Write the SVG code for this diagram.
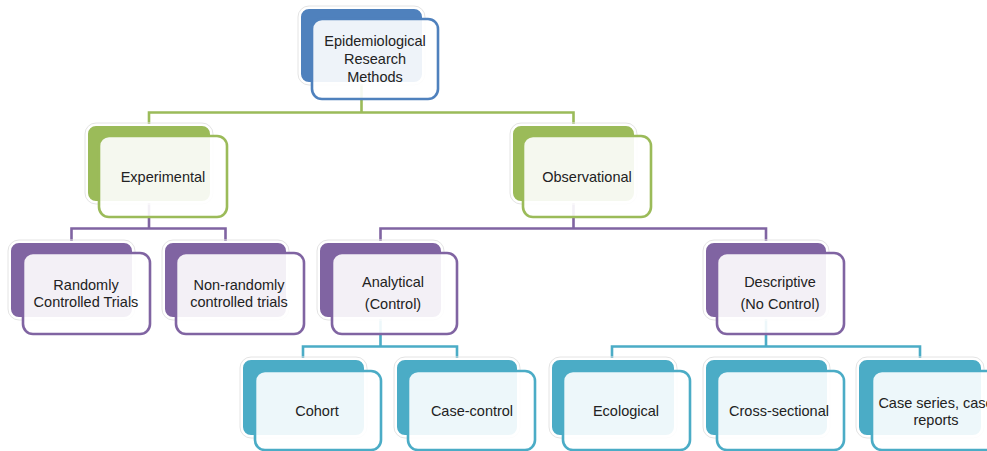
<svg xmlns="http://www.w3.org/2000/svg" width="987" height="451" viewBox="0 0 987 451">
  <style>
    .halo { fill: none; stroke: #e4e4e4; stroke-width: 1; }
    .back { stroke: #ffffff; stroke-width: 2; }
    .front { fill: #ffffff; fill-opacity: 0.9; stroke-width: 2.6; }
    .blue .back { fill: #4f81bd; }  .blue .front { stroke: #4f81bd; }
    .green .back { fill: #9bbb59; } .green .front { stroke: #9bbb59; }
    .purple .back { fill: #8064a2; } .purple .front { stroke: #8064a2; }
    .teal .back { fill: #4bacc6; }  .teal .front { stroke: #4bacc6; }
    .lbl { font-family: "Liberation Sans", Arial, sans-serif; font-size: 14.5px; fill: #222222; text-anchor: middle; }
    .conn { fill: none; stroke-width: 2.6; stroke-linejoin: miter; }
    .c-green { stroke: #9bbb59; } .c-purple { stroke: #8064a2; } .c-teal { stroke: #4bacc6; }
  </style>

  <!-- connectors (behind nodes) -->
  <g id="connectors">
    <path class="conn c-green" d="M361.5 83 V112.5 M149 125 V112.5 H573.5 V125"/>
    <path class="conn c-purple" d="M149 202 V228.5 M71.5 242 V228.5 H225.5 V242"/>
    <path class="conn c-purple" d="M573.5 202 V228.5 M380.5 242 V228.5 H766 V242"/>
    <path class="conn c-teal" d="M380.5 318 V346.5 M303 359 V346.5 H457 V359"/>
    <path class="conn c-teal" d="M766 318 V346.5 M612 359 V346.5 H920 V359"/>
  </g>

  <!-- level 1 -->
  <g id="node-research-methods" class="blue">
    <rect class="halo" x="298" y="6" width="127" height="79" rx="11"/>
    <rect class="back" x="300" y="8" width="123" height="75" rx="9"/>
    <rect class="front" x="312" y="19" width="126" height="80" rx="10"/>
    <text class="lbl" x="375" y="46">Epidemiological</text>
    <text class="lbl" x="375" y="64">Research</text>
    <text class="lbl" x="375" y="82">Methods</text>
  </g>

  <!-- level 2 -->
  <g id="node-experimental" class="green">
    <rect class="halo" x="85" y="123" width="128" height="81" rx="11"/>
    <rect class="back" x="87" y="125" width="124" height="77" rx="9"/>
    <rect class="front" x="99" y="136" width="128" height="81" rx="10"/>
    <text class="lbl" x="163" y="182">Experimental</text>
  </g>
  <g id="node-observational" class="green">
    <rect class="halo" x="510" y="123" width="127" height="81" rx="11"/>
    <rect class="back" x="512" y="125" width="123" height="77" rx="9"/>
    <rect class="front" x="523" y="136" width="128" height="81" rx="10"/>
    <text class="lbl" x="587" y="182">Observational</text>
  </g>

  <!-- level 3 -->
  <g id="node-rct" class="purple">
    <rect class="halo" x="8" y="240" width="127" height="80" rx="11"/>
    <rect class="back" x="10" y="242" width="123" height="76" rx="9"/>
    <rect class="front" x="23" y="253" width="127" height="81" rx="10"/>
    <text class="lbl" x="86" y="290">Randomly</text>
    <text class="lbl" x="86" y="307">Controlled Trials</text>
  </g>
  <g id="node-non-randomly" class="purple">
    <rect class="halo" x="162" y="240" width="127" height="80" rx="11"/>
    <rect class="back" x="164" y="242" width="123" height="76" rx="9"/>
    <rect class="front" x="176" y="253" width="128" height="81" rx="10"/>
    <text class="lbl" x="239" y="290">Non-randomly</text>
    <text class="lbl" x="239" y="307">controlled trials</text>
  </g>
  <g id="node-analytical" class="purple">
    <rect class="halo" x="317" y="240" width="127" height="80" rx="11"/>
    <rect class="back" x="319" y="242" width="123" height="76" rx="9"/>
    <rect class="front" x="332" y="253" width="125" height="81" rx="10"/>
    <text class="lbl" x="393" y="287">Analytical</text>
    <text class="lbl" x="393" y="309">(Control)</text>
  </g>
  <g id="node-descriptive" class="purple">
    <rect class="halo" x="703" y="240" width="126" height="80" rx="11"/>
    <rect class="back" x="705" y="242" width="122" height="76" rx="9"/>
    <rect class="front" x="717" y="253" width="127" height="81" rx="10"/>
    <text class="lbl" x="780" y="287">Descriptive</text>
    <text class="lbl" x="780" y="309">(No Control)</text>
  </g>

  <!-- level 4 -->
  <g id="node-cohort" class="teal">
    <rect class="halo" x="240" y="357" width="127" height="81" rx="11"/>
    <rect class="back" x="242" y="359" width="123" height="77" rx="9"/>
    <rect class="front" x="255" y="371" width="126" height="79" rx="10"/>
    <text class="lbl" x="317" y="416">Cohort</text>
  </g>
  <g id="node-case-control" class="teal">
    <rect class="halo" x="394" y="357" width="126" height="81" rx="11"/>
    <rect class="back" x="396" y="359" width="122" height="77" rx="9"/>
    <rect class="front" x="408" y="371" width="127" height="79" rx="10"/>
    <text class="lbl" x="472" y="416">Case-control</text>
  </g>
  <g id="node-ecological" class="teal">
    <rect class="halo" x="549" y="357" width="128" height="81" rx="11"/>
    <rect class="back" x="551" y="359" width="124" height="77" rx="9"/>
    <rect class="front" x="563" y="371" width="127" height="79" rx="10"/>
    <text class="lbl" x="626" y="416">Ecological</text>
  </g>
  <g id="node-cross-sectional" class="teal">
    <rect class="halo" x="703" y="357" width="127" height="81" rx="11"/>
    <rect class="back" x="705" y="359" width="123" height="77" rx="9"/>
    <rect class="front" x="717" y="371" width="127" height="79" rx="10"/>
    <text class="lbl" x="779" y="416">Cross-sectional</text>
  </g>
  <g id="node-case-series" class="teal">
    <rect class="halo" x="856" y="357" width="128" height="81" rx="11"/>
    <rect class="back" x="858" y="359" width="124" height="77" rx="9"/>
    <rect class="front" x="872" y="371" width="127" height="79" rx="10"/>
    <text class="lbl" x="936" y="408">Case series, case</text>
    <text class="lbl" x="936" y="425">reports</text>
  </g>
</svg>
